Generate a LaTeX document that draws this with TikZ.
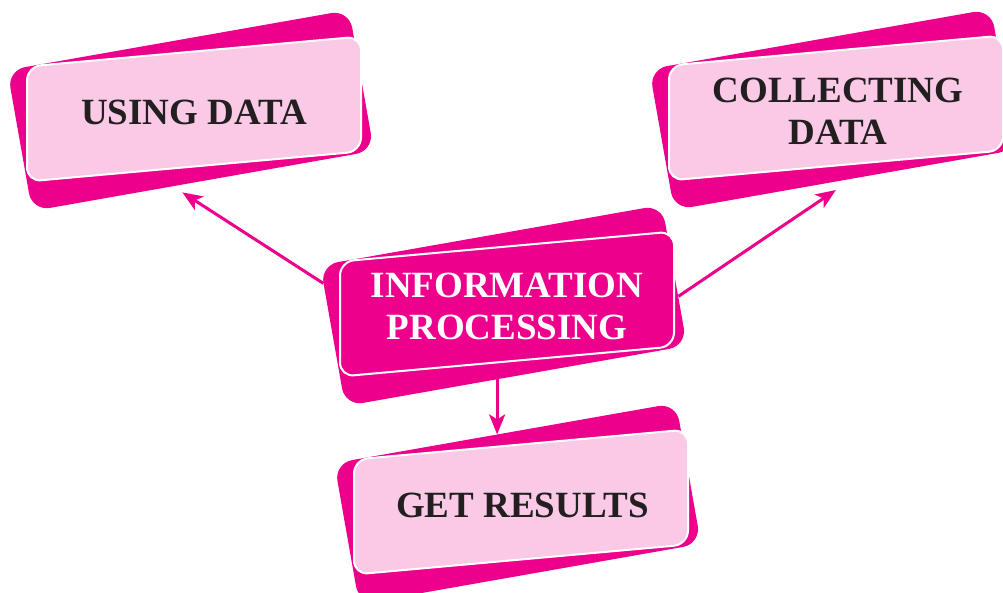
\documentclass[tikz,border=0pt]{standalone}
\usepackage{fontspec}
\setmainfont{Liberation Serif}
\usepackage{tikz}
\usetikzlibrary{
  arrows.meta,
  calc,
}
\definecolor{cardpink}{RGB}{236,0,140}
\definecolor{cardlight}{RGB}{250,201,230}
\definecolor{cardink}{RGB}{35,31,32}
\tikzstyle{arrow} = [
  -{Stealth[length=20pt,width=16pt,inset=5pt]},
  line width=3pt,
  cardpink,
]
\tikzstyle{backcard} = [
  rectangle,
  fill=cardpink,
  rounded corners=18pt,
  minimum width=347pt,
  minimum height=143pt,
  inner sep=0pt,
  rotate=10,
]
\tikzstyle{frontcard} = [
  rectangle,
  draw=white,
  line width=2pt,
  fill=cardlight,
  rounded corners=14pt,
  minimum width=334pt,
  minimum height=115pt,
  inner sep=0pt,
  yslant=0.09,
]
\tikzstyle{cardtext} = [
  font=\bfseries\fontsize{37}{42}\selectfont,
  text=cardink,
  align=center,
  inner sep=0pt,
]

\begin{document}
\begin{tikzpicture}[x=1pt,y=-1pt]
  \useasboundingbox (0,0) rectangle (1003,592);

  \node[backcard] (usingback) at (190.6,110.5) {};
  \node[frontcard] (usingcard) at (194,109) {};
  \node[cardtext] (using) at (194,112) {USING DATA};

  \node[backcard] (collback) at (832.6,109.5) {};
  \node[frontcard] (collcard) at (836,108) {};
  \node[cardtext] (coll) at (838,111.5) {COLLECTING\\DATA};

  \node[backcard] (infoback) at (503.6,305.5) {};
  \node[frontcard,fill=cardpink] (infocard) at (507,304) {};
  \node[cardtext,text=white] (info) at (507,306.5) {INFORMATION\\PROCESSING};

  \node[backcard] (getback) at (517.6,503.5) {};
  \node[frontcard] (getcard) at (521,502) {};
  \node[cardtext] (get) at (522.5,505.5) {GET RESULTS};

  \draw[arrow, shorten >=11pt] (infoback.163) -- (usingback.-113);
  \draw[arrow, shorten >=20pt] (infoback.-7) -- (collback.-84);
  \draw[arrow] (infoback.-105) -- (infoback.-105 |- getback.97);
\end{tikzpicture}
\end{document}
